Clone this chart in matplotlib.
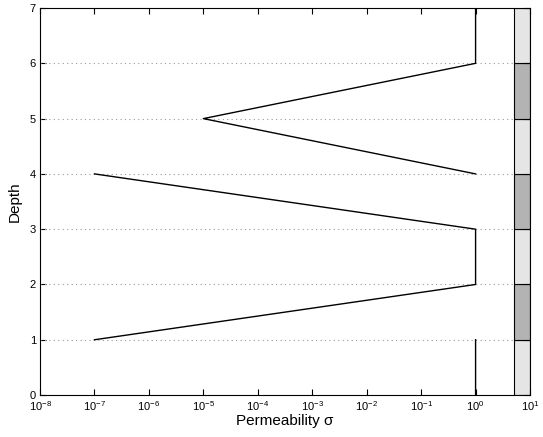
import numpy as np
import matplotlib
matplotlib.use("Agg")
import matplotlib.pyplot as plt

plt.rcParams['font.family'] = ['Liberation Sans', 'DejaVu Sans']
plt.rcParams['mathtext.fontset'] = 'custom'
plt.rcParams['mathtext.rm'] = 'Liberation Sans'
plt.rcParams['mathtext.it'] = 'Liberation Sans'

# permeability profile (NaN breaks the line between layers)
perm = [1, 1, np.nan, 1e-7, 1, 1, 1e-7, np.nan, 1, 1e-5, 1, 1]
depth = [0, 1, np.nan, 1, 2, 3, 4, np.nan, 4, 5, 6, 7]

# layer strip on the right
layer_bottom = [0, 1, 2, 3, 4, 5, 6]
layer_shade = ['#e5e5e5', '#b3b3b3', '#e5e5e5', '#b3b3b3', '#e5e5e5', '#b3b3b3', '#e5e5e5']
grid_depths = [1, 2, 3, 4, 5, 6]

fig = plt.figure(figsize=(5.43, 4.37), dpi=100)
ax = fig.add_axes([0.0737, 0.096, 0.9024, 0.8856])

ax.hlines(grid_depths, 1e-8, 5, colors='#999999', linestyles=(0, (1, 3)), lw=0.8)
ax.plot(perm, depth, color='black', lw=1)
ax.barh([b + 0.5 for b in layer_bottom], 5, left=5, height=1,
        color=layer_shade, edgecolor='black', lw=0.8)

ax.set_xscale('log')
ax.set_xlim(1e-8, 1e1)
ax.set_ylim(0, 7)
ax.set_xticks([10.0**k for k in range(-8, 2)])
ax.set_yticks(range(0, 8))
ax.tick_params(which='both', direction='in', top=True, right=True, labelsize=8)
ax.tick_params(which='major', length=4, pad=3)
ax.tick_params(which='minor', length=2)
ax.set_xlabel('Permeability σ', fontsize=11, labelpad=1)
ax.set_ylabel('Depth', fontsize=11, labelpad=6)
for s in ax.spines.values():
    s.set_linewidth(0.8)

fig.savefig('out.png', dpi=100)
